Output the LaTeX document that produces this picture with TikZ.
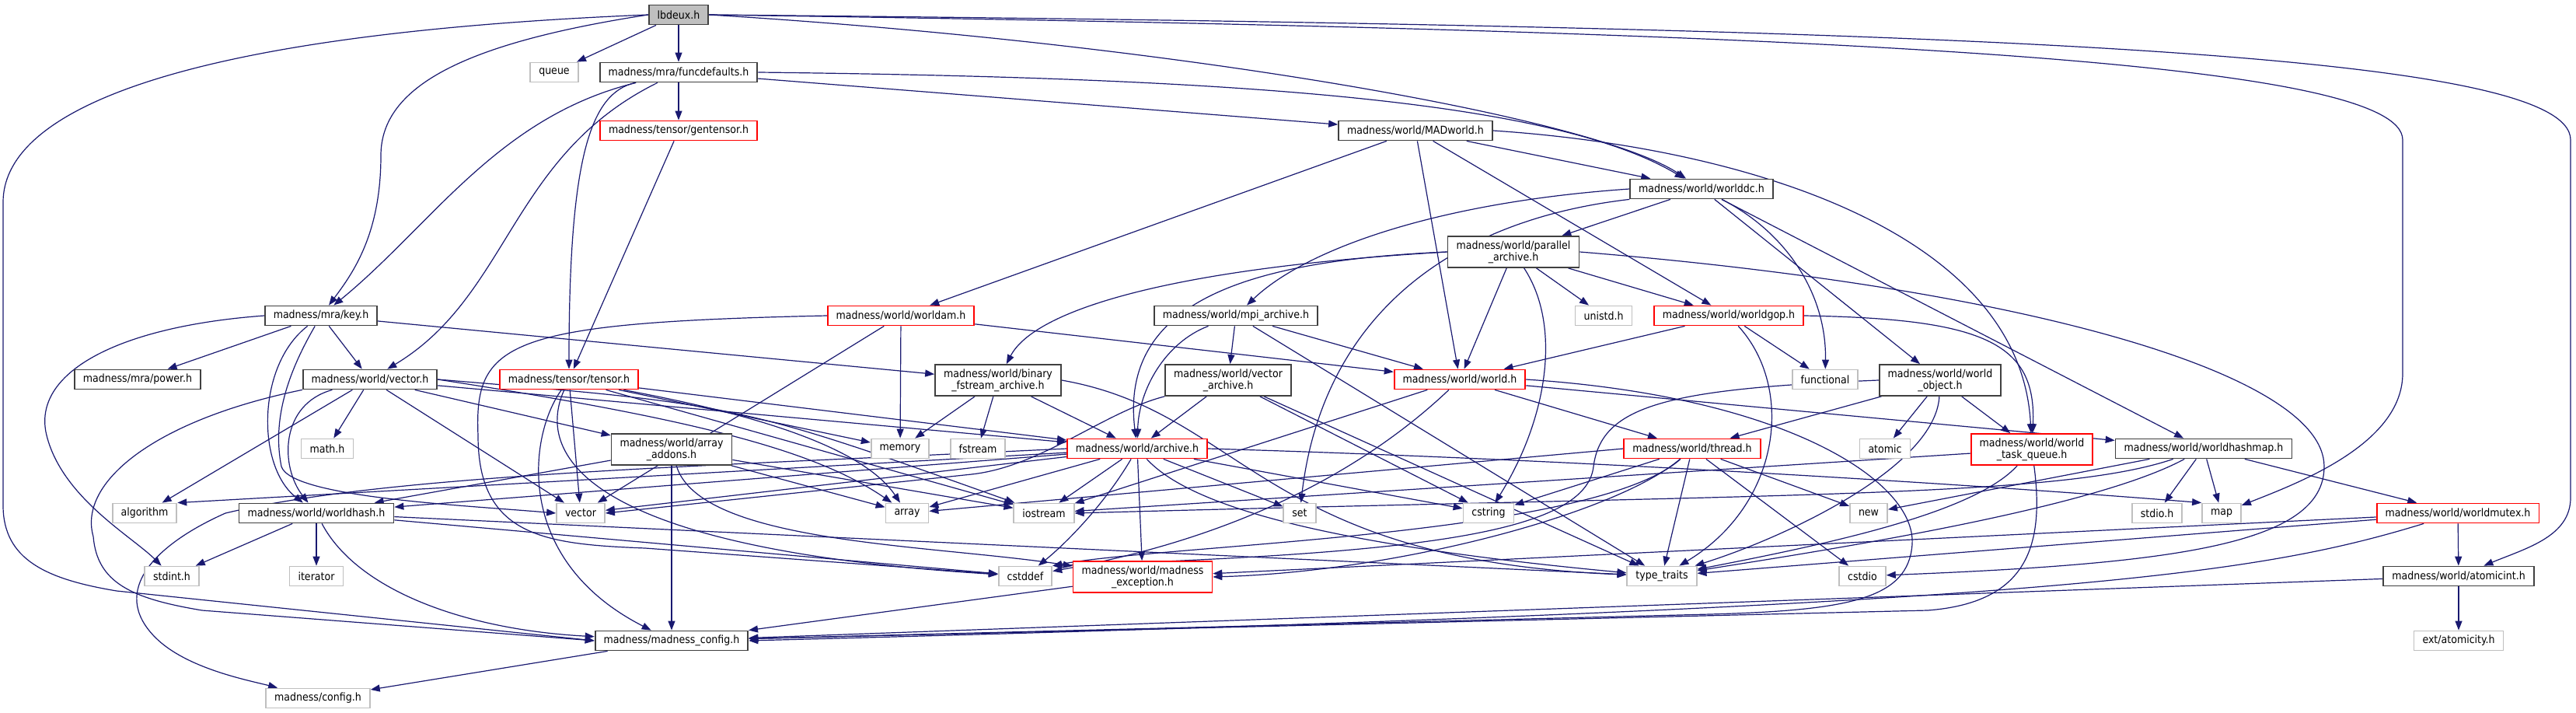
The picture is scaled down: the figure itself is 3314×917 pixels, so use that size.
\documentclass[tikz,border=0pt]{standalone}
\usepackage{fontspec}
\setmainfont{DejaVu Sans Condensed}
\usepackage{tikz}
\usetikzlibrary{arrows.meta,backgrounds}
\definecolor{edgeblue}{RGB}{25,25,112}
\definecolor{boxgray}{RGB}{191,191,191}
\definecolor{boxred}{RGB}{255,0,0}
\definecolor{boxdark}{RGB}{64,64,64}

\tikzset{
  hdr/.style={draw=boxdark, line width=1.8pt, fill=white, inner xsep=11pt, inner ysep=5.5pt,
    minimum height=25pt, align=center, font=\fontsize{14}{15}\selectfont},
  inc/.style={hdr, draw=boxred},
  sys/.style={hdr, draw=boxgray},
  root/.style={hdr, fill=boxgray},
  dep/.style={edgeblue, line width=1.2pt, -{Triangle[length=12pt,width=9pt]}},
}

\begin{document}
\begin{tikzpicture}[x=1pt,y=-1pt]
\useasboundingbox (0,0) rectangle (3314,917);

% headers, row by row
\node[root] (lbdeux) at (873,19) {lbdeux.h};
\node[sys] (queue) at (713,93) {queue};
\node[hdr] (funcdef) at (873,93) {madness/mra/funcdefaults.h};
\node[inc] (gentensor) at (873,168) {madness/tensor/gentensor.h};
\node[hdr] (madworld) at (1821,168) {madness/world/MADworld.h};
\node[hdr] (worlddc) at (2189,243) {madness/world/worlddc.h};
\node[hdr] (parallel) at (1947,324) {madness/world/parallel\\\_archive.h};
\node[hdr] (key) at (413,406) {madness/mra/key.h};
\node[inc] (worldam) at (1159,406) {madness/world/worldam.h};
\node[hdr] (mpiarch) at (1590,406) {madness/world/mpi\_archive.h};
\node[sys] (unistd) at (2063,406) {unistd.h};
\node[inc] (worldgop) at (2224,406) {madness/world/worldgop.h};
\node[hdr] (power) at (177,488) {madness/mra/power.h};
\node[hdr] (wvector) at (476,488) {madness/world/vector.h};
\node[inc] (tensor) at (732,488) {madness/tensor/tensor.h};
\node[hdr] (binfs) at (1284,489) {madness/world/binary\\\_fstream\_archive.h};
\node[hdr] (varchive) at (1580,489) {madness/world/vector\\\_archive.h};
\node[inc] (world) at (1878,488) {madness/world/world.h};
\node[sys] (functional) at (2348,488) {functional};
\node[hdr] (wobject) at (2496,489) {madness/world/world\\\_object.h};
\node[sys] (mathh) at (421,577) {math.h};
\node[hdr] (addons) at (864,578) {madness/world/array\\\_addons.h};
\node[sys] (memory) at (1158,577) {memory};
\node[sys] (fstream) at (1258,577) {fstream};
\node[inc] (archive) at (1463,577) {madness/world/archive.h};
\node[inc] (thread) at (2177,577) {madness/world/thread.h};
\node[sys] (atomic) at (2425,577) {atomic};
\node[inc] (taskq) at (2614,578) {madness/world/world\\\_task\_queue.h};
\node[hdr] (hashmap) at (2835,577) {madness/world/worldhashmap.h};
\node[sys] (algorithm) at (186,660) {algorithm};
\node[hdr] (worldhash) at (407,660) {madness/world/worldhash.h};
\node[sys] (vector) at (747,660) {vector};
\node[sys] (array) at (1167,660) {array};
\node[sys] (iostream) at (1343,660) {iostream};
\node[sys] (set) at (1672,660) {set};
\node[sys] (cstring) at (1915,660) {cstring};
\node[sys] (new) at (2404,660) {new};
\node[sys] (stdio) at (2775,660) {stdio.h};
\node[sys] (map) at (2858,660) {map};
\node[inc] (mutex) at (3162,660) {madness/world/worldmutex.h};
\node[sys] (stdint) at (221,741) {stdint.h};
\node[sys] (iterator) at (407,741) {iterator};
\node[sys] (cstddef) at (1319,741) {cstddef};
\node[inc] (mexc) at (1470,742) {madness/world/madness\\\_exception.h};
\node[sys] (typetraits) at (2138,741) {type\_traits};
\node[sys] (cstdio) at (2396,741) {cstdio};
\node[hdr] (atomicint) at (3163,741) {madness/world/atomicint.h};
\node[hdr] (config) at (864,824) {madness/madness\_config.h};
\node[sys] (atomicity) at (3163,824) {ext/atomicity.h};
\node[sys] (mconfig) at (409,898) {madness/config.h};

\begin{scope}[on background layer]
% lbdeux.h
\draw[dep] (lbdeux) -- (queue);
\draw[dep] (lbdeux) -- (funcdef);
\draw[dep] (lbdeux.west) .. controls (600,55) and (490,110) .. (490,200) .. controls (490,300) and (455,350) .. (key);
\draw[dep] (lbdeux.west) .. controls (200,45) and (4,150) .. (4,260) -- (4,650) .. controls (4,720) and (60,745) .. (150,760) -- (config.west);
\draw[dep] (lbdeux.east) .. controls (1500,55) and (2050,150) .. (worlddc);
\draw[dep] (lbdeux.east) .. controls (2400,40) and (3091,80) .. (3091,180) -- (3091,480) .. controls (3091,570) and (2960,620) .. (map);
\draw[dep] (lbdeux.east) .. controls (2600,35) and (3307,70) .. (3307,180) -- (3307,640) .. controls (3307,690) and (3250,705) .. (atomicint);
% funcdefaults.h
\draw[dep] (funcdef) -- (gentensor);
\draw[dep] (funcdef) -- (madworld);
\draw[dep] (funcdef.east) .. controls (1600,100) and (2000,130) .. (worlddc);
\draw[dep] (funcdef) .. controls (640,150) and (555,290) .. (key);
\draw[dep] (funcdef) .. controls (656,200) and (656,380) .. (wvector);
\draw[dep] (funcdef) .. controls (760,120) and (732,200) .. (tensor);
\draw[dep] (gentensor) -- (tensor);
% MADworld.h
\draw[dep] (madworld) -- (worldam);
\draw[dep] (madworld) -- (world);
\draw[dep] (madworld) -- (worlddc);
\draw[dep] (madworld) -- (worldgop);
\draw[dep] (madworld.east) .. controls (2250,190) and (2600,300) .. (taskq);
% worlddc.h
\draw[dep] (worlddc) -- (parallel);
\draw[dep] (worlddc.west) .. controls (1850,260) and (1680,320) .. (mpiarch);
\draw[dep] (worlddc.south west) .. controls (1850,285) and (1700,420) .. (set);
\draw[dep] (worlddc) .. controls (2300,300) and (2350,380) .. (functional);
\draw[dep] (worlddc) -- (wobject);
\draw[dep] (worlddc) -- (hashmap);
% parallel_archive.h
\draw[dep] (parallel.west) .. controls (1600,335) and (1440,390) .. (archive);
\draw[dep] (parallel.west) .. controls (1500,345) and (1330,400) .. (binfs);
\draw[dep] (parallel) -- (world);
\draw[dep] (parallel) -- (worldgop);
\draw[dep] (parallel) -- (unistd);
\draw[dep] (parallel) .. controls (2010,420) and (1990,540) .. (cstring);
\draw[dep] (parallel.east) .. controls (2600,370) and (2990,480) .. (2990,600) .. controls (2990,700) and (2800,725) .. (cstdio);
% key.h
\draw[dep] (key) -- (power);
\draw[dep] (key) -- (wvector);
\draw[dep] (key) -- (binfs);
\draw[dep] (key.west) .. controls (150,420) and (40,480) .. (60,560) .. controls (80,640) and (170,690) .. (stdint);
\draw[dep] (key) .. controls (330,470) and (330,600) .. (worldhash);
\draw[dep] (key) .. controls (370,480) and (350,540) .. (362,600) .. controls (375,640) and (600,650) .. (vector.west);
% worldam.h
\draw[dep] (worldam) -- (world);
\draw[dep] (worldam) -- (memory);
\draw[dep] (worldam) -- (vector);
\draw[dep] (worldam.west) .. controls (650,415) and (610,440) .. (615,560) .. controls (615,690) and (700,700) .. (830,705) -- (cstddef);
% mpi_archive.h
\draw[dep] (mpiarch) .. controls (1500,440) and (1465,500) .. (archive);
\draw[dep] (mpiarch) -- (varchive);
\draw[dep] (mpiarch) -- (world);
\draw[dep] (mpiarch) -- (typetraits);
% worldgop.h
\draw[dep] (worldgop) -- (world);
\draw[dep] (worldgop) -- (functional);
\draw[dep] (worldgop) .. controls (2310,500) and (2290,650) .. (typetraits);
\draw[dep] (worldgop.east) .. controls (2550,410) and (2620,440) .. (taskq);
% tensor.h
\draw[dep] (tensor) -- (vector);
\draw[dep] (tensor) -- (memory);
\draw[dep] (tensor) -- (archive);
\draw[dep] (tensor) .. controls (900,520) and (1100,560) .. (array);
\draw[dep] (tensor) -- (iostream);
\draw[dep] (tensor) .. controls (680,560) and (660,720) .. (config);
\draw[dep] (tensor) .. controls (690,580) and (740,705) .. (cstddef);
% vector.h
\draw[dep] (wvector) -- (algorithm);
\draw[dep] (wvector) -- (mathh);
\draw[dep] (wvector) .. controls (360,520) and (360,600) .. (worldhash);
\draw[dep] (wvector) -- (vector);
\draw[dep] (wvector) -- (addons);
\draw[dep] (wvector) -- (archive);
\draw[dep] (wvector.east) .. controls (900,540) and (1050,580) .. (array);
\draw[dep] (wvector.east) .. controls (950,520) .. (iostream);
\draw[dep] (wvector.south west) .. controls (200,540) and (100,620) .. (120,690) .. controls (125,750) and (170,770) .. (260,785) -- (config.west);
% array_addons.h
\draw[dep] (addons) -- (worldhash);
\draw[dep] (addons) -- (array);
\draw[dep] (addons) -- (iostream);
\draw[dep] (addons) -- (config);
\draw[dep] (addons) .. controls (900,700) and (1200,700) .. (mexc);
% binary_fstream_archive.h
\draw[dep] (binfs) -- (memory);
\draw[dep] (binfs) -- (fstream);
\draw[dep] (binfs) -- (archive);
\draw[dep] (binfs.east) .. controls (1600,530) and (1620,720) .. (typetraits);
% vector_archive.h
\draw[dep] (varchive) -- (archive);
\draw[dep] (varchive.south west) .. controls (1420,530) and (1340,600) .. (1250,610) -- (vector.east);
\draw[dep] (varchive) -- (typetraits);
\draw[dep] (varchive) -- (cstring);
% archive.h
\draw[dep] (archive) -- (vector);
\draw[dep] (archive) -- (algorithm.north east);
\draw[dep] (archive) -- (worldhash);
\draw[dep] (archive) -- (array);
\draw[dep] (archive) -- (iostream);
\draw[dep] (archive) .. controls (1420,650) and (1370,700) .. (cstddef);
\draw[dep] (archive) -- (mexc);
\draw[dep] (archive) .. controls (1530,650) and (1700,700) .. (typetraits);
\draw[dep] (archive) -- (set);
\draw[dep] (archive) -- (cstring);
\draw[dep] (archive.east) .. controls (2000,590) and (2500,620) .. (map.north west);
\draw[dep] (archive.west) .. controls (900,600) and (500,610) .. (290,660) .. controls (200,700) and (140,760) .. (200,820) .. controls (240,860) and (320,875) .. (mconfig);
% world.h
\draw[dep] (world) -- (thread);
\draw[dep] (world) -- (hashmap);
\draw[dep] (world) -- (iostream);
\draw[dep] (world) .. controls (1760,600) and (1600,690) .. (cstddef);
\draw[dep] (world.east) .. controls (2300,510) and (2465,620) .. (2460,700) .. controls (2455,770) and (2380,785) .. (2200,790) -- (config);
% thread.h
\draw[dep] (thread) -- (typetraits);
\draw[dep] (thread) -- (cstdio);
\draw[dep] (thread) -- (new);
\draw[dep] (thread) -- (cstring);
\draw[dep] (thread.west) -- (array);
\draw[dep] (thread) .. controls (2050,690) and (1500,700) .. (cstddef.north east);
\draw[dep] (thread) .. controls (2080,660) and (1800,735) .. (mexc.east);
% world_object.h
\draw[dep] (wobject) -- (thread);
\draw[dep] (wobject) -- (atomic);
\draw[dep] (wobject) -- (taskq);
\draw[dep] (wobject) .. controls (2490,600) and (2300,690) .. (typetraits);
\draw[dep] (wobject.west) .. controls (2150,500) and (2060,520) .. (2050,600) .. controls (2040,690) and (1800,712) .. (cstddef.north east);
% world_task_queue.h
\draw[dep] (taskq) .. controls (2540,660) and (2350,700) .. (typetraits);
\draw[dep] (taskq) -- (iostream);
\draw[dep] (taskq) .. controls (2630,700) and (2610,775) .. (2480,785) -- (config);
% worldhashmap.h
\draw[dep] (hashmap) -- (new);
\draw[dep] (hashmap) -- (stdio);
\draw[dep] (hashmap) -- (map);
\draw[dep] (hashmap) -- (mutex);
\draw[dep] (hashmap) .. controls (2700,650) and (2400,700) .. (typetraits);
\draw[dep] (hashmap) .. controls (2650,640) and (2300,635) .. (iostream.east);
% worldmutex.h
\draw[dep] (mutex) -- (atomicint);
\draw[dep] (mutex) -- (mexc);
\draw[dep] (mutex) -- (typetraits);
\draw[dep] (mutex) .. controls (2900,740) and (2650,780) .. (config.east);
% the rest
\draw[dep] (atomicint) -- (atomicity);
\draw[dep] (atomicint) -- (config);
\draw[dep] (mexc) -- (config);
\draw[dep] (worldhash) -- (stdint);
\draw[dep] (worldhash) -- (iterator);
\draw[dep] (worldhash) .. controls (460,760) and (600,810) .. (config);
\draw[dep] (worldhash) -- (cstddef);
\draw[dep] (worldhash) -- (typetraits);
\draw[dep] (config) -- (mconfig);
\end{scope}
\end{tikzpicture}
\end{document}
